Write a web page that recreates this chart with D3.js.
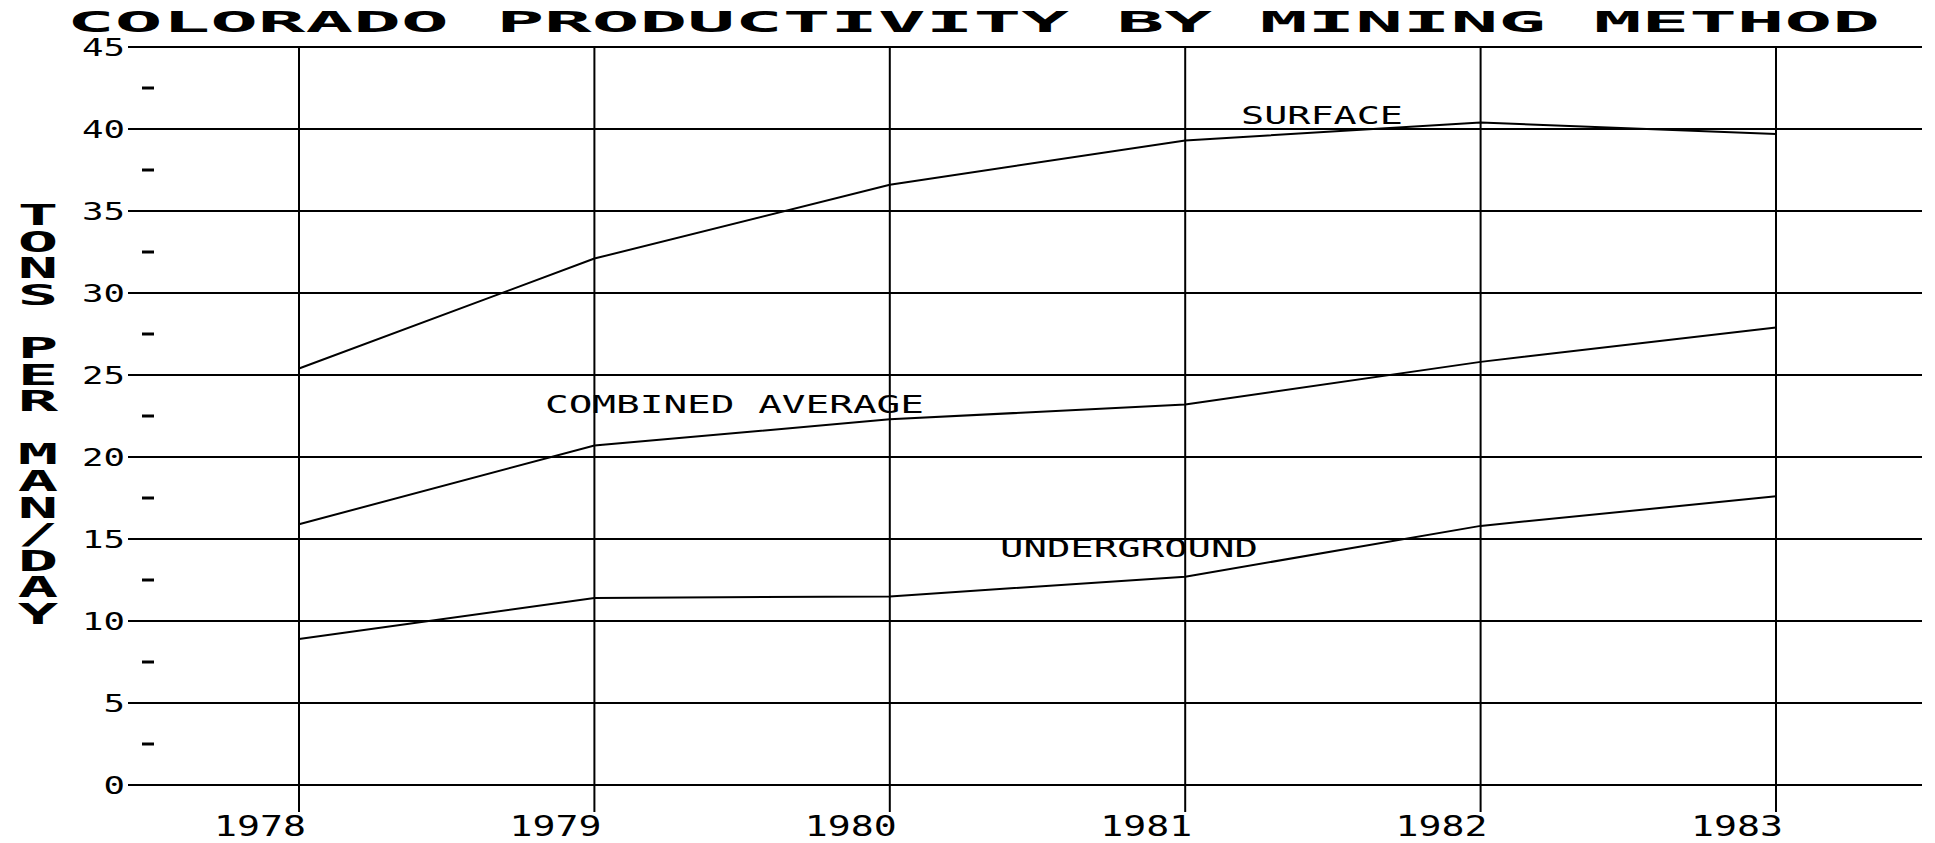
<!DOCTYPE html>
<html>
<head>
<meta charset="utf-8">
<script src="https://cdn.jsdelivr.net/npm/d3@7"></script>
<style>
  body { margin: 0; background: #fff; }
  svg { display: block; }
</style>
</head>
<body>
<div id="chart"></div>
<script>
const years = [1978, 1979, 1980, 1981, 1982, 1983];
const surface = [25.4, 32.1, 36.6, 39.3, 40.4, 39.7];
const combined = [15.9, 20.7, 22.3, 23.2, 25.8, 27.9];
const underground = [8.9, 11.4, 11.5, 12.7, 15.8, 17.6];
const yTicks = [0, 5, 10, 15, 20, 25, 30, 35, 40, 45];
const minorTicks = [2.5, 7.5, 12.5, 17.5, 22.5, 27.5, 32.5, 37.5, 42.5];
const seriesLabels = [
    { name: 'SURFACE', x: 1241, y: 124, w: 162 },
    { name: 'COMBINED AVERAGE', x: 545, y: 413, w: 379 },
    { name: 'UNDERGROUND', x: 1000, y: 557, w: 258 }
];
const title = 'COLORADO PRODUCTIVITY BY MINING METHOD';
const yTitle = 'TONS PER MAN/DAY';

const width = 1935;
const height = 843;

const svg = d3.select('#chart')
    .append('svg')
    .attr('width', width)
    .attr('height', height);

const x = d3.scaleLinear().domain([1978, 1983]).range([299, 1776]);
const y = d3.scaleLinear().domain([0, 45]).range([785, 47]);

// horizontal grid lines
svg.selectAll('.hgrid')
    .data(yTicks)
    .enter()
    .append('line')
    .attr('x1', 128)
    .attr('x2', 1922)
    .attr('y1', d => y(d))
    .attr('y2', d => y(d))
    .attr('stroke', '#000')
    .attr('stroke-width', 2);

// vertical grid lines, run a bit below zero
svg.selectAll('.vgrid')
    .data(years)
    .enter()
    .append('line')
    .attr('x1', d => x(d))
    .attr('x2', d => x(d))
    .attr('y1', y(45))
    .attr('y2', 812)
    .attr('stroke', '#000')
    .attr('stroke-width', 2);

// little dashes between labelled ticks
svg.selectAll('.minor')
    .data(minorTicks)
    .enter()
    .append('line')
    .attr('x1', 142)
    .attr('x2', 154)
    .attr('y1', d => y(d))
    .attr('y2', d => y(d))
    .attr('stroke', '#000')
    .attr('stroke-width', 3);

svg.selectAll('.ylab')
    .data(yTicks)
    .enter()
    .append('text')
    .attr('x', 125)
    .attr('y', d => y(d) + 9)
    .attr('text-anchor', 'end')
    .attr('textLength', d => String(d).length * 21.5)
    .attr('lengthAdjust', 'spacingAndGlyphs')
    .style('font-family', 'DejaVu Sans Mono')
    .style('font-size', '25px')
    .text(d => d);

svg.selectAll('.xlab')
    .data(years)
    .enter()
    .append('text')
    .attr('x', d => x(d) + 7)
    .attr('y', 836)
    .attr('text-anchor', 'end')
    .attr('textLength', 92)
    .attr('lengthAdjust', 'spacingAndGlyphs')
    .style('font-family', 'DejaVu Sans Mono')
    .style('font-size', '28px')
    .text(d => d);

const line = d3.line()
    .x((d, i) => x(years[i]))
    .y(d => y(d));

[surface, combined, underground].forEach(s => {
    svg.append('path')
        .attr('d', line(s))
        .attr('fill', 'none')
        .attr('stroke', '#000')
        .attr('stroke-width', 2);
});

svg.selectAll('.slab')
    .data(seriesLabels)
    .enter()
    .append('text')
    .attr('x', d => d.x)
    .attr('y', d => d.y)
    .attr('textLength', d => d.w)
    .attr('lengthAdjust', 'spacingAndGlyphs')
    .style('font-family', 'DejaVu Sans Mono')
    .style('font-size', '25px')
    .text(d => d.name);

svg.append('text')
    .attr('x', 67)
    .attr('y', 32)
    .attr('textLength', 1813)
    .attr('lengthAdjust', 'spacingAndGlyphs')
    .style('font-family', 'DejaVu Sans Mono')
    .style('font-weight', 'bold')
    .style('font-size', '28px')
    .text(title);

// stacked upright letters for the y title
svg.selectAll('.ytitle')
    .data(yTitle.split(''))
    .enter()
    .append('text')
    .attr('transform', (d, i) => `translate(38,${225 + i * 26.6}) scale(2.4,1)`)
    .attr('text-anchor', 'middle')
    .style('font-family', 'DejaVu Sans Mono')
    .style('font-weight', 'bold')
    .style('font-size', '28px')
    .text(d => d);
</script>
</body>
</html>
